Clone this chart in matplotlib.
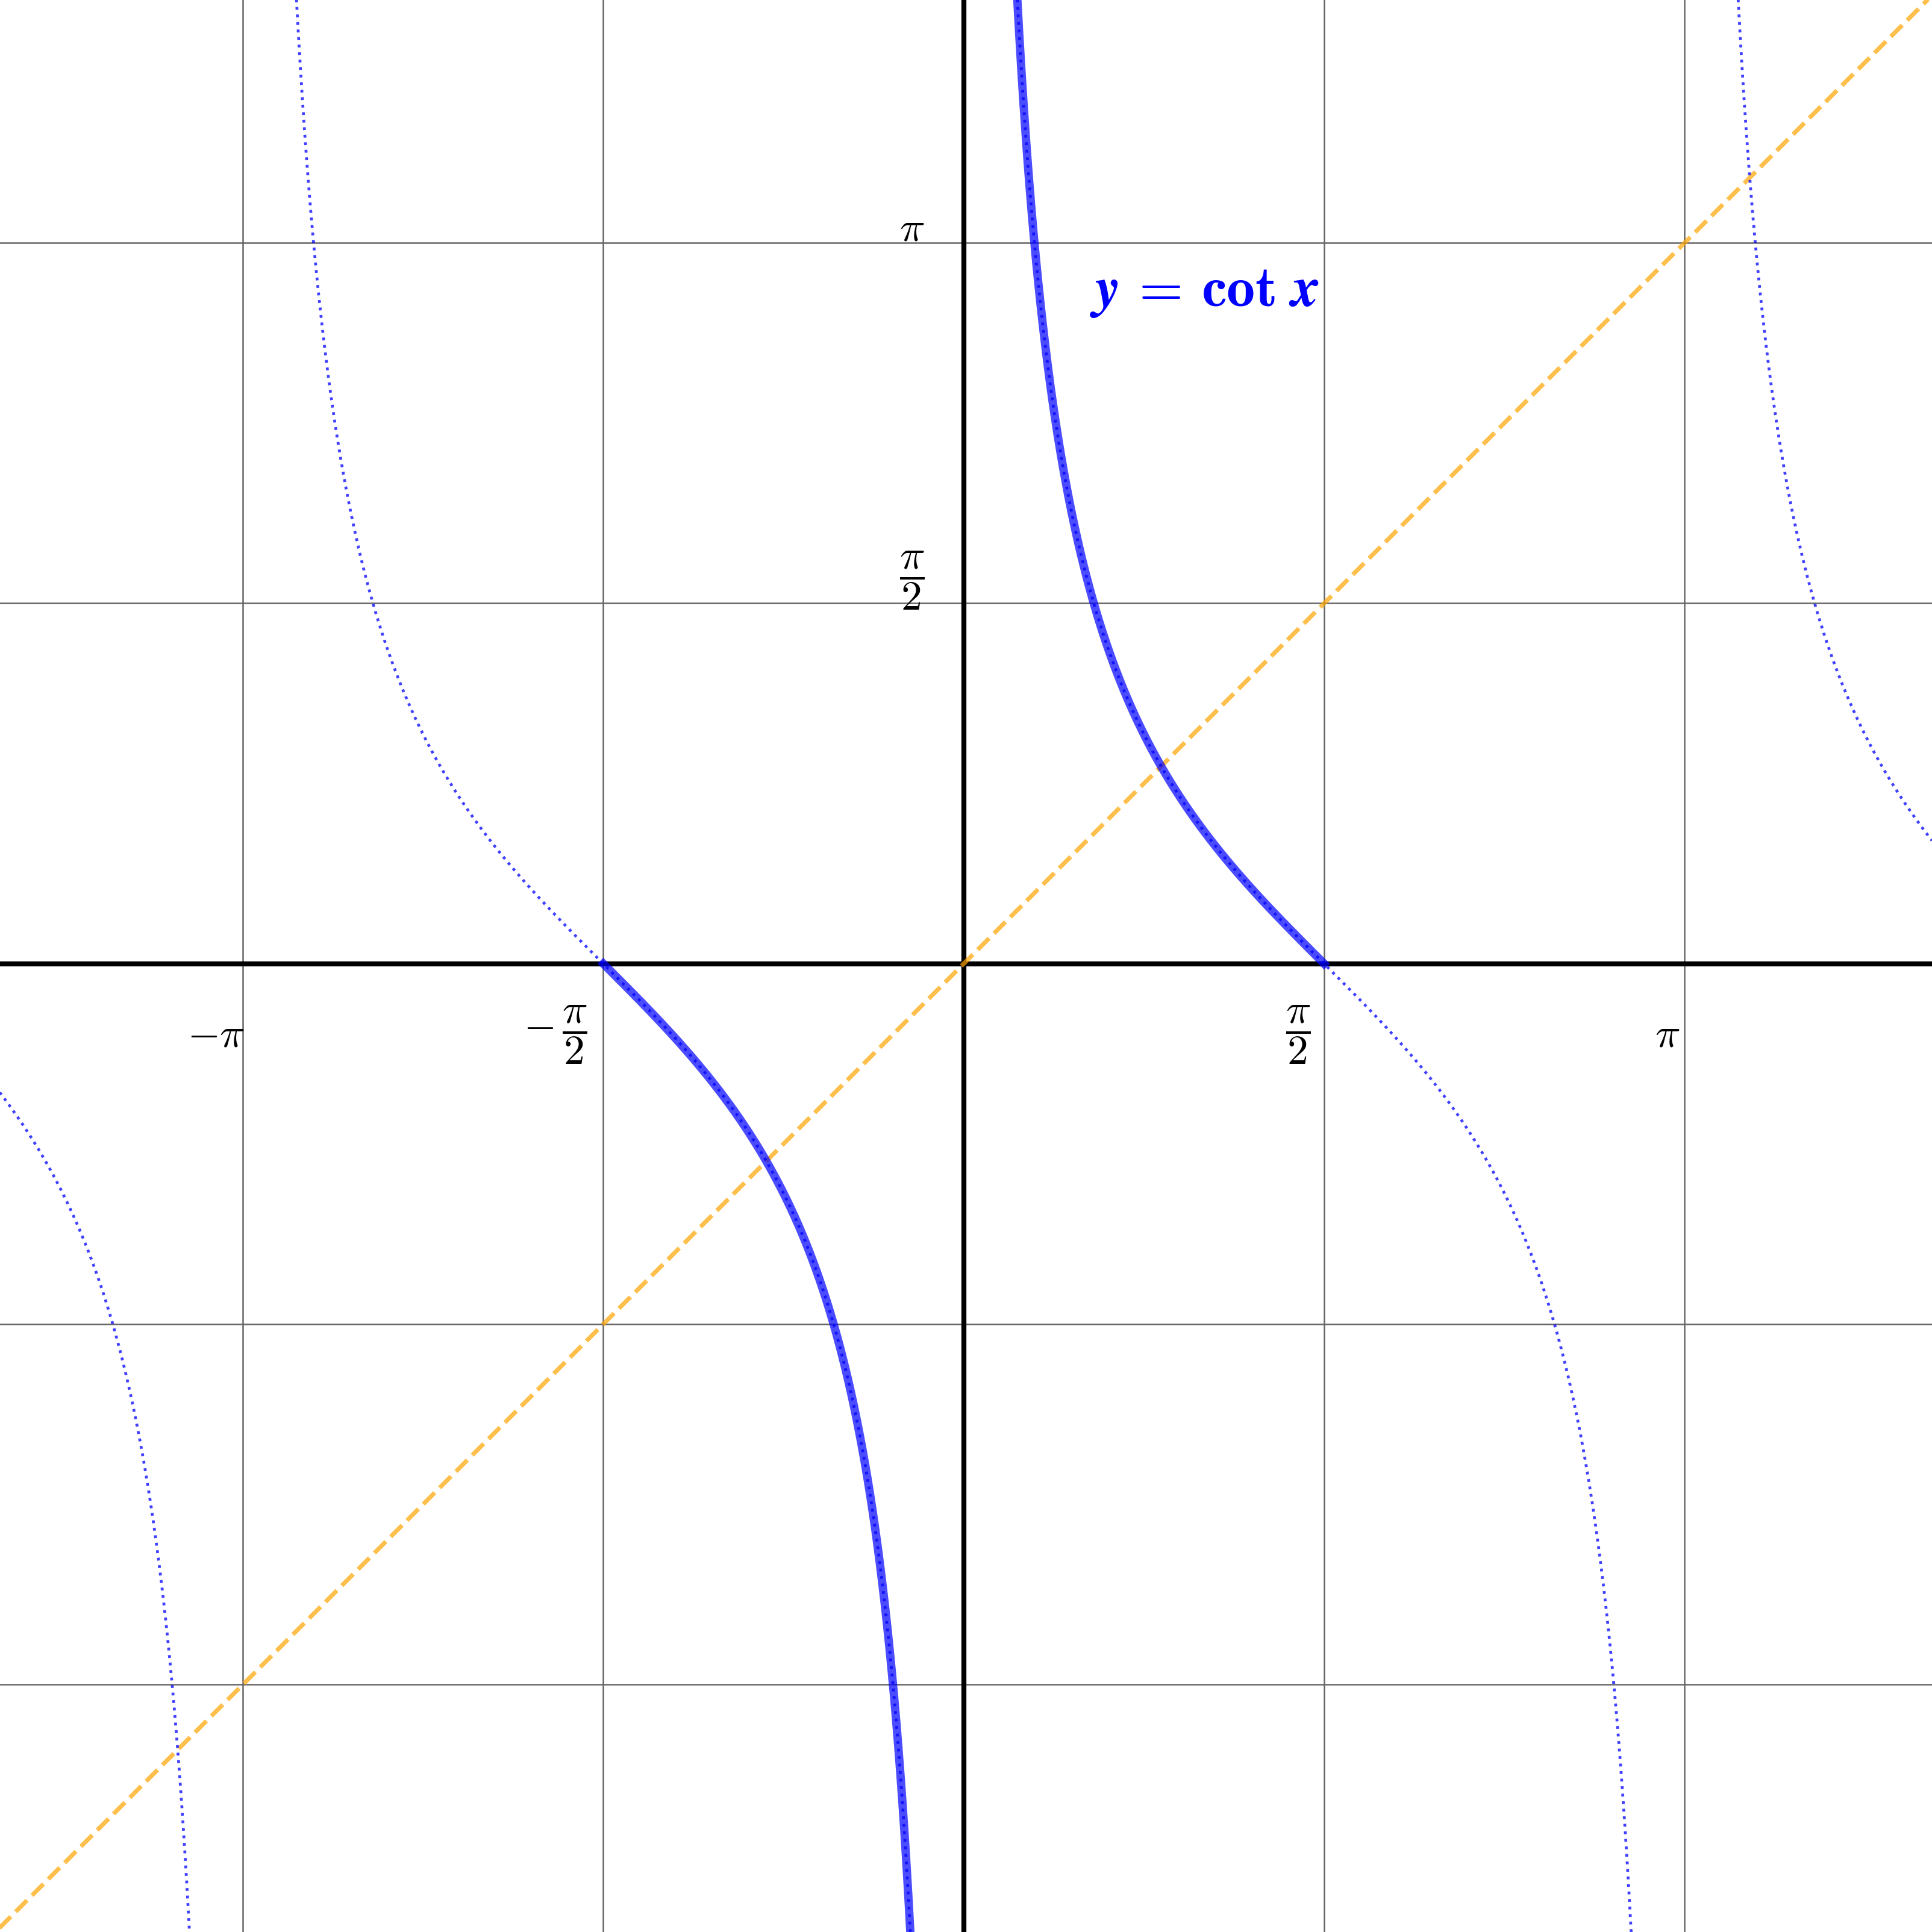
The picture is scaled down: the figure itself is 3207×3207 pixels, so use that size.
import numpy as np
import matplotlib
matplotlib.use("Agg")
from matplotlib import pyplot as plt

plt.rcParams['mathtext.fontset'] = 'cm'

# donnees
grid_pos = [-np.pi, -np.pi / 2, np.pi / 2, np.pi]
x_labels = [r'$-\pi$', r'$-\,\dfrac{\pi}{2}$', r'$\dfrac{\pi}{2}$', r'$\pi$']
y_pos = [np.pi / 2, np.pi]
y_labels = [r'$\dfrac{\pi}{2}$', r'$\pi$']
title = r'$\boldsymbol{y}\,\mathbf{=}\,\mathbf{cot}\;\boldsymbol{x}$'

# decalages des etiquettes (unites des axes)
x_nudge = [0.01, -0.07, -0.06, -0.02]


def cot_segments(a, b, n=2000):
    """courbe de cot x, coupee a chaque asymptote"""
    xs = np.linspace(a, b, n)
    ys = 1 / np.tan(xs)
    ys[np.abs(ys) > 20] = np.nan
    return xs, ys


fig = plt.figure(figsize=(3207 / 200, 3207 / 200), dpi=200)
ax = fig.add_axes([0, 0, 1, 1])
ax.set_xlim(-4.2, 4.22)
ax.set_ylim(-4.22, 4.2)
ax.axis('off')

# grille
for p in grid_pos:
    ax.axvline(p, color='#666666', lw=0.9, zorder=1)
    ax.axhline(p, color='#666666', lw=0.9, zorder=1)
ax.axhline(0, color='black', lw=3, zorder=2)
ax.axvline(0, color='black', lw=3, zorder=2)

# y = x
ax.plot([-5, 5], [-5, 5], color='orange', alpha=0.7, lw=2.6, ls='--', zorder=3)

# cot x partout en pointille
for k in range(-2, 2):
    xs, ys = cot_segments(k * np.pi + 1e-3, (k + 1) * np.pi - 1e-3)
    ax.plot(xs, ys, color='blue', alpha=0.75, lw=1.7, ls=':', zorder=5)

# branche principale en trait epais
xs, ys = cot_segments(1e-3, np.pi / 2)
ax.plot(xs, ys, color='blue', alpha=0.7, lw=5, zorder=4)
xs, ys = cot_segments(-np.pi / 2, -1e-3)
ax.plot(xs, ys, color='blue', alpha=0.7, lw=5, zorder=4)

# etiquettes
for p, lab, dx in zip(grid_pos, x_labels, x_nudge):
    ax.text(p + dx, -0.31, lab, fontsize=25, ha='right', va='center', zorder=6)
ax.text(-0.17, np.pi / 2 + 0.1, y_labels[0], fontsize=25, ha='right', va='center', zorder=6)
ax.text(-0.17, np.pi + 0.06, y_labels[1], fontsize=25, ha='right', va='center', zorder=6)

ax.text(0.55, 2.93, title, fontsize=34, color='blue', ha='left', va='center', zorder=6)

fig.savefig('out.png', dpi=200)
